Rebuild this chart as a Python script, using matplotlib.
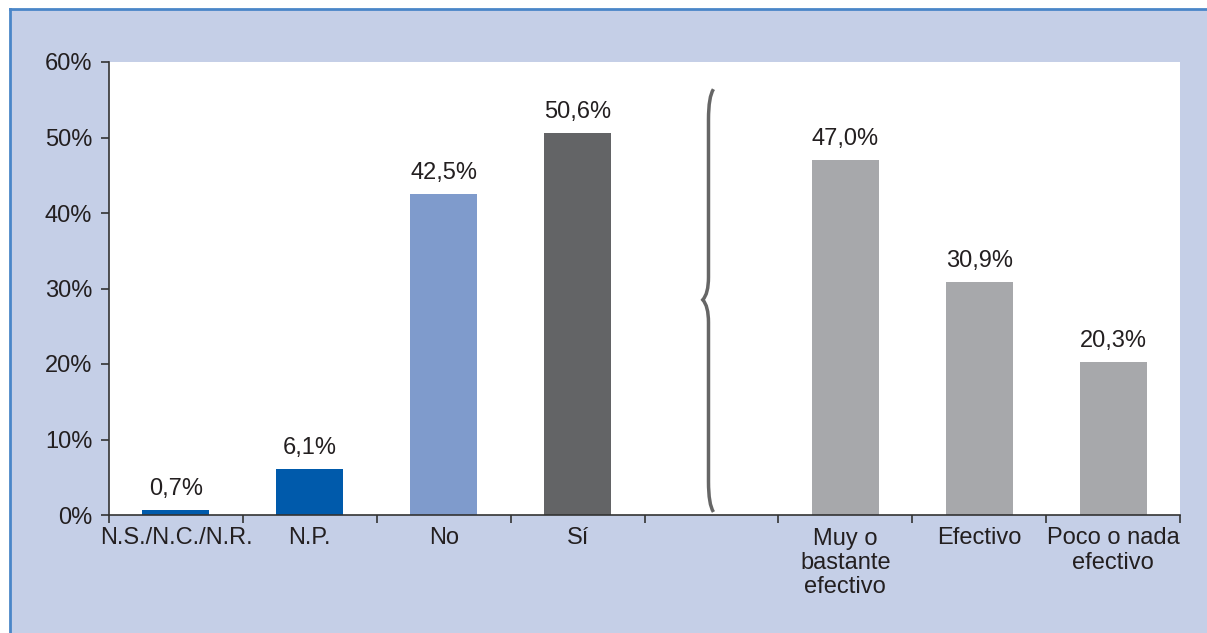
import matplotlib
matplotlib.use("Agg")
import matplotlib.pyplot as plt
from matplotlib.patches import Rectangle, PathPatch
from matplotlib.path import Path
from matplotlib.lines import Line2D


###############################################################################
# Data
###############################################################################

categories = [
    "N.S./N.C./N.R.",
    "N.P.",
    "No",
    "Sí",
    "",
    "Muy o\nbastante\nefectivo",
    "Efectivo",
    "Poco o nada\nefectivo",
]

values = [0.7, 6.1, 42.5, 50.6, None, 47.0, 30.9, 20.3]

value_labels = ["0,7%", "6,1%", "42,5%", "50,6%", "", "47,0%", "30,9%", "20,3%"]

bar_colors = [
    "#005aab", "#005aab", "#7f9bcc", "#636466",
    "#ffffff", "#a7a8ab", "#a7a8ab", "#a7a8ab",
]

y_ticks = [0, 10, 20, 30, 40, 50, 60]
y_tick_labels = ["0%", "10%", "20%", "30%", "40%", "50%", "60%"]

FONT = ["Liberation Sans", "DejaVu Sans"]
SIZE = 17
TEXT = "#231f20"
BG = "#c5cfe7"
BORDER = "#4a86c8"


###############################################################################
# Figure
###############################################################################

fig = plt.figure(figsize=(12.07, 6.33), dpi=100, facecolor="white")

fig.patches.append(
    Rectangle((10 / 1207, 0), 1, 1 - 9 / 633, transform=fig.transFigure,
              facecolor=BG, edgecolor="none", zorder=-10)
)
fig.lines.append(
    Line2D([10 / 1207, 1], [1 - 9 / 633, 1 - 9 / 633], transform=fig.transFigure,
           color=BORDER, linewidth=2, zorder=-5)
)
fig.lines.append(
    Line2D([10 / 1207, 10 / 1207], [0, 1 - 9 / 633], transform=fig.transFigure,
           color=BORDER, linewidth=2, zorder=-5)
)

ax = fig.add_axes([109 / 1207, 118 / 633, 1071 / 1207, 453 / 633])
ax.set_facecolor("white")

x = list(range(len(categories)))

for i, v in enumerate(values):
    if v is None:
        continue
    ax.bar(i, v, width=0.5, color=bar_colors[i], zorder=2)
    ax.annotate(value_labels[i], (i, v), xytext=(0, 7),
                textcoords="offset points", ha="center", va="bottom",
                fontsize=SIZE, color=TEXT, family=FONT)

ax.set_xlim(-0.5, len(categories) - 0.5)
ax.set_ylim(0, 60)

ax.set_yticks(y_ticks)
ax.set_yticklabels(y_tick_labels, fontsize=SIZE, color=TEXT, family=FONT)

ax.set_xticks(x)
ax.set_xticklabels(categories, fontsize=SIZE, color=TEXT, family=FONT,
                   linespacing=1.13, va="top")
ax.tick_params(axis="x", length=0, pad=9)
ax.set_xticks([i - 0.5 for i in range(len(categories) + 1)], minor=True)
ax.tick_params(axis="x", which="minor", length=6, width=1.2, color="#333333")
ax.tick_params(axis="y", length=6, width=1.2, color="#333333", pad=6)

for side in ["top", "right"]:
    ax.spines[side].set_visible(False)
for side in ["left", "bottom"]:
    ax.spines[side].set_color("#333333")
    ax.spines[side].set_linewidth(1.2)

###############################################################################
# Brace
###############################################################################

c = 4
top, mid, bot = 56.4, 28.5, 0.4
verts = [
    (c + 0.015, top),
    (c - 0.022, top - 1.0), (c - 0.022, top - 4.0),
    (c - 0.022, mid + 3.0),
    (c - 0.022, mid + 0.8), (c - 0.065, mid),
    (c - 0.022, mid - 0.8), (c - 0.022, mid - 3.0),
    (c - 0.022, bot + 4.0),
    (c - 0.022, bot + 1.0), (c + 0.015, bot),
]
codes = [
    Path.MOVETO,
    Path.CURVE3, Path.CURVE3,
    Path.LINETO,
    Path.CURVE3, Path.CURVE3,
    Path.CURVE3, Path.CURVE3,
    Path.LINETO,
    Path.CURVE3, Path.CURVE3,
]
ax.add_patch(PathPatch(Path(verts, codes), facecolor="none",
                       edgecolor="#666666", linewidth=2.5, zorder=3))

fig.savefig("out.png", dpi=100, facecolor=fig.get_facecolor())
